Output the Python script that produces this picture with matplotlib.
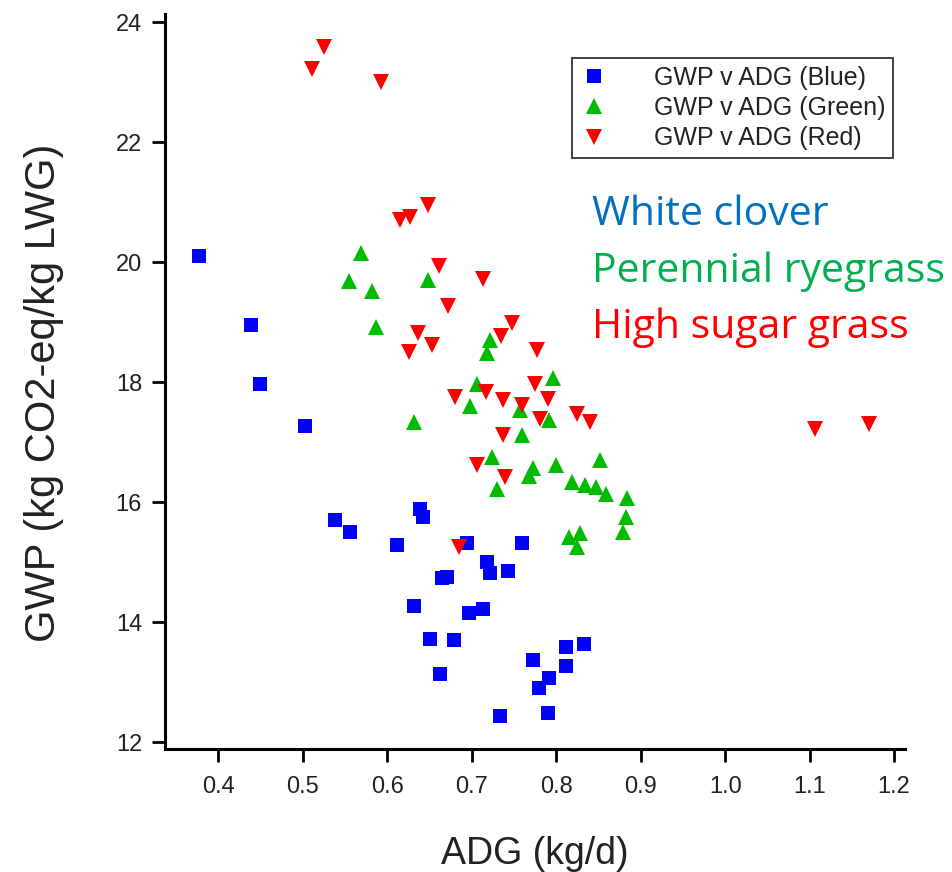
import matplotlib
matplotlib.use('Agg')
import matplotlib.pyplot as plt

# White clover (blue squares)
blue_adg = [0.377, 0.439, 0.449, 0.503, 0.538, 0.556, 0.611, 0.639, 0.642, 0.694,
            0.759, 0.718, 0.722, 0.743, 0.665, 0.671, 0.631, 0.697, 0.713, 0.650,
            0.679, 0.662, 0.773, 0.812, 0.833, 0.812, 0.792, 0.780, 0.733, 0.790]
blue_gwp = [20.10, 18.95, 17.97, 17.27, 15.70, 15.51, 15.29, 15.89, 15.76, 15.32,
            15.33, 15.01, 14.83, 14.86, 14.74, 14.76, 14.27, 14.15, 14.23, 13.72,
            13.70, 13.14, 13.37, 13.59, 13.64, 13.27, 13.07, 12.90, 12.44, 12.48]

# Perennial ryegrass (green triangles)
green_adg = [0.569, 0.555, 0.582, 0.586, 0.648, 0.721, 0.718, 0.631, 0.706, 0.698,
             0.757, 0.760, 0.796, 0.792, 0.724, 0.730, 0.773, 0.768, 0.800, 0.852,
             0.819, 0.834, 0.847, 0.859, 0.884, 0.883, 0.879, 0.828, 0.815, 0.825]
green_gwp = [20.16, 19.69, 19.52, 18.92, 19.70, 18.70, 18.49, 17.34, 17.97, 17.60,
             17.54, 17.12, 18.07, 17.37, 16.76, 16.23, 16.58, 16.44, 16.62, 16.70,
             16.34, 16.29, 16.25, 16.14, 16.08, 15.76, 15.51, 15.49, 15.42, 15.25]

# High sugar grass (red inverted triangles)
red_adg = [0.525, 0.511, 0.592, 0.648, 0.627, 0.615, 0.661, 0.713, 0.672, 0.748,
           0.636, 0.653, 0.626, 0.735, 0.777, 0.717, 0.680, 0.737, 0.759, 0.775,
           0.790, 0.781, 0.824, 0.840, 0.737, 0.706, 0.739, 0.685, 1.107, 1.170]
red_gwp = [23.59, 23.23, 23.01, 20.95, 20.76, 20.70, 19.94, 19.73, 19.27, 18.99,
           18.82, 18.63, 18.51, 18.77, 18.54, 17.84, 17.75, 17.70, 17.62, 17.98,
           17.73, 17.39, 17.48, 17.34, 17.13, 16.62, 16.42, 15.26, 17.22, 17.31]

legend_labels = ['GWP v ADG (Blue)', 'GWP v ADG (Green)', 'GWP v ADG (Red)']
notes = ['White clover', 'Perennial ryegrass', 'High sugar grass']
note_colors = ['#0070C0', '#00B050', '#FF0000']

plt.rcParams['font.family'] = ['Liberation Sans', 'DejaVu Sans']

fig = plt.figure(figsize=(9.53, 8.72), dpi=100)
ax = fig.add_axes([165 / 953, 1 - 749 / 872, 740 / 953, 735 / 872])

ax.plot(blue_adg, blue_gwp, 's', color='#0000FF', ms=10.5, mew=0, label=legend_labels[0])
ax.plot(green_adg, green_gwp, '^', color='#00BB00', ms=11.5, mew=0, label=legend_labels[1])
ax.plot(red_adg, red_gwp, 'v', color='#FF0000', ms=11.5, mew=0, label=legend_labels[2])

ax.set_xlim(0.3367, 1.213)
ax.set_ylim(11.888, 24.14)
ax.set_xticks([0.4, 0.5, 0.6, 0.7, 0.8, 0.9, 1.0, 1.1, 1.2])
ax.set_yticks([12, 14, 16, 18, 20, 22, 24])

for s in ['top', 'right']:
    ax.spines[s].set_visible(False)
for s in ['left', 'bottom']:
    ax.spines[s].set_linewidth(2.2)
ax.tick_params(direction='out', length=9.5, width=2, labelsize=17,
               labelcolor='#222222')
ax.tick_params(axis='x', pad=10)
ax.tick_params(axis='y', pad=7)

ax.set_xlabel('ADG (kg/d)', fontsize=27, color='#222222')
ax.set_ylabel('GWP (kg CO2-eq/kg LWG)', fontsize=30, color='#222222')
ax.xaxis.set_label_coords(0.5, -0.118)
ax.yaxis.set_label_coords(-0.137, 0.485)

leg = ax.legend(loc='upper right', bbox_to_anchor=(893 / 953, 1 - 58 / 872),
                bbox_transform=fig.transFigure, borderaxespad=0, fontsize=18,
                frameon=True, fancybox=False, labelspacing=0.26,
                handlelength=1.16, handletextpad=1.82, borderpad=0.3, numpoints=1)
leg.get_frame().set_edgecolor('black')
leg.get_frame().set_linewidth(1.3)
for t in leg.get_texts():
    t.set_color('#222222')

baselines = [225, 281.7, 338]
for txt, col, yb in zip(notes, note_colors, baselines):
    fig.text(592 / 953, 1 - yb / 872, txt, color=col, fontsize=29.5,
             family='Open Sans', ha='left', va='baseline')

fig.savefig('out.png', dpi=100)
